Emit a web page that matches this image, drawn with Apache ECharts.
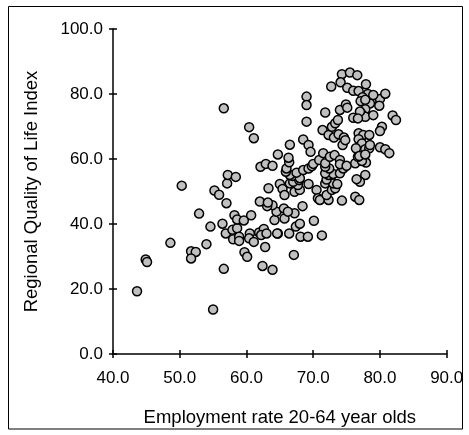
<!DOCTYPE html>
<html>
<head>
<meta charset="utf-8">
<script src="https://cdn.jsdelivr.net/npm/echarts@6/dist/echarts.min.js"></script>
<style>
  html, body { margin: 0; padding: 0; background: #fff; }
  #chart { width: 469px; height: 435px; }
</style>
</head>
<body>
<div id="chart"></div>
<script>
// Employment rate (20-64) per region, percent
const employmentRate = [
  43.6, 44.9, 45.1, 48.6, 50.3, 51.7, 52.4, 51.7, 52.9, 54.0,
  54.6, 55.0, 55.2, 55.9, 56.6, 56.6, 57.0, 57.1, 57.2, 58.4,
  56.4, 56.9, 57.9, 58.6, 58.0, 58.9, 58.9, 58.2, 58.6, 59.6,
  60.7, 60.5, 60.4, 61.1, 59.7, 60.1, 60.4, 61.1, 61.9, 62.6,
  62.2, 63.0, 62.8, 62.4, 63.9, 64.7, 64.2, 64.5, 63.9, 63.1,
  62.0, 63.2, 63.3, 64.7, 62.1, 62.9, 63.9, 65.6, 65.7, 67.2,
  68.4, 66.2, 67.4, 68.0, 70.1, 64.6, 66.4, 68.1, 69.2, 71.3,
  67.1, 65.0, 65.4, 65.7, 67.2, 68.0, 70.5, 70.7, 71.0, 72.3,
  72.0, 72.8, 73.3, 74.3, 76.3, 76.9, 66.5, 67.7, 69.3, 67.0,
  67.9, 66.9, 68.0, 66.5, 65.9, 67.5, 71.8, 73.0, 73.6, 72.0,
  72.3, 73.0, 71.8, 74.0, 72.4, 74.5, 71.8, 68.5, 69.3, 69.8,
  70.0, 66.0, 66.4, 66.3, 66.5, 70.9, 71.8, 71.5, 72.5, 73.2,
  74.0, 74.0, 75.0, 76.3, 77.9, 77.3, 76.7, 68.5, 69.3, 69.6,
  69.0, 69.0, 69.0, 71.4, 71.8, 72.3, 73.1, 73.8, 74.6, 74.4,
  72.8, 73.3, 73.7, 74.0, 74.9, 75.1, 74.3, 75.5, 76.6, 74.1,
  72.7, 77.9, 75.1, 76.0, 76.8, 78.2, 77.4, 78.9, 77.1, 78.5,
  77.8, 80.0, 80.8, 79.9, 77.3, 76.0, 77.8, 79.0, 77.0, 76.7,
  81.9, 82.4, 80.3, 80.0, 76.8, 77.5, 78.4, 76.8, 77.3, 74.8,
  76.4, 77.8, 78.4, 76.9, 77.8, 80.0, 80.8, 81.4, 78.5, 79.0,
  77.8, 77.8, 77.0, 76.5
];

// Regional Quality of Life Index, same order as above
const qualityIndex = [
  19.3, 29.1, 28.3, 34.2, 51.8, 31.6, 31.4, 29.4, 43.2, 33.8,
  39.2, 13.7, 50.3, 49.0, 26.2, 75.6, 46.4, 52.5, 55.1, 54.5,
  40.1, 37.1, 38.2, 38.7, 35.3, 36.1, 34.8, 42.7, 41.4, 41.1,
  42.7, 37.1, 35.6, 34.5, 31.3, 29.9, 69.8, 66.4, 37.4, 38.5,
  36.6, 37.1, 32.9, 27.1, 25.9, 37.1, 41.2, 43.8, 45.8, 45.5,
  46.9, 46.6, 51.0, 61.4, 57.6, 58.5, 57.9, 44.8, 41.7, 43.3,
  45.5, 43.8, 39.2, 40.1, 41.0, 37.1, 37.1, 36.1, 36.1, 36.5,
  30.5, 52.3, 50.8, 48.9, 49.9, 50.5, 50.5, 47.9, 47.4, 47.4,
  48.9, 50.5, 51.0, 47.2, 48.4, 47.4, 52.5, 52.0, 52.3, 53.0,
  53.5, 54.8, 54.1, 55.1, 56.1, 55.8, 52.5, 52.5, 52.3, 53.7,
  55.1, 55.4, 55.6, 55.6, 57.1, 57.1, 57.6, 56.6, 57.1, 57.8,
  58.5, 57.1, 59.0, 60.4, 64.4, 59.7, 58.7, 61.8, 60.7, 61.2,
  59.7, 58.4, 57.9, 58.7, 58.9, 59.4, 60.7, 66.0, 64.3, 62.2,
  71.5, 79.2, 76.6, 68.9, 74.3, 67.4, 66.6, 67.6, 66.6, 64.3,
  69.9, 71.0, 72.0, 75.1, 76.8, 75.8, 86.1, 86.6, 85.8, 83.6,
  82.3, 83.0, 81.9, 81.0, 80.9, 80.0, 79.0, 78.4, 77.8, 77.1,
  75.3, 78.5, 80.1, 76.4, 73.8, 72.7, 73.0, 73.5, 74.6, 72.5,
  73.4, 72.0, 69.9, 68.6, 67.9, 67.4, 67.4, 66.1, 64.8, 65.8,
  63.3, 63.0, 63.3, 60.9, 61.4, 63.6, 63.0, 61.8, 64.3, 79.7,
  78.2, 55.1, 53.0, 53.8
];

const xTicks = { min: 40, max: 90, step: 10 };
const yTicks = { min: 0, max: 100, step: 20 };

const points = employmentRate.map((x, i) => [x, qualityIndex[i]]);

const fontFamily = '"Liberation Sans", Arial, sans-serif';
const fmt = v => v.toFixed(1);

const chart = echarts.init(document.getElementById('chart'), null, { renderer: 'canvas' });

const baseAxis = {
  type: 'value',
  splitLine: { show: false },
  axisLine: { show: true, onZero: false, lineStyle: { color: '#000', width: 1.5 } },
  axisTick: { show: true, inside: false, length: 4, lineStyle: { color: '#000', width: 1.5 } },
  axisLabel: { color: '#000', fontFamily: fontFamily, fontSize: 17, formatter: fmt }
};

// second copy of each axis carries the inner half of the crossing tick marks
const innerTicks = {
  type: 'value',
  splitLine: { show: false },
  axisLine: { show: false },
  axisLabel: { show: false },
  axisTick: { show: true, inside: true, length: 4, lineStyle: { color: '#000', width: 1.5 } }
};

const nameStyle = { color: '#000', fontFamily: fontFamily, fontSize: 18.5 };

chart.setOption({
  animation: false,
  backgroundColor: '#fff',
  grid: { left: 113, right: 22.3, top: 29, bottom: 81 },
  xAxis: [
    Object.assign({}, baseAxis, {
      min: xTicks.min, max: xTicks.max, interval: xTicks.step,
      position: 'bottom',
      name: 'Employment rate 20-64 year olds',
      nameLocation: 'middle', nameGap: 54,
      nameTextStyle: nameStyle,
      axisLabel: Object.assign({}, baseAxis.axisLabel, { margin: 16 })
    }),
    Object.assign({}, innerTicks, {
      min: xTicks.min, max: xTicks.max, interval: xTicks.step,
      position: 'bottom', offset: 0
    })
  ],
  yAxis: [
    Object.assign({}, baseAxis, {
      min: yTicks.min, max: yTicks.max, interval: yTicks.step,
      position: 'left',
      name: 'Regional Quality of Life Index',
      nameLocation: 'middle', nameGap: 72,
      nameTextStyle: nameStyle,
      axisLabel: Object.assign({}, baseAxis.axisLabel, { margin: 10 })
    }),
    Object.assign({}, innerTicks, {
      min: yTicks.min, max: yTicks.max, interval: yTicks.step,
      position: 'left', offset: 0
    })
  ],
  series: [{
    type: 'scatter',
    xAxisIndex: 0,
    yAxisIndex: 0,
    data: points,
    symbol: 'circle',
    symbolSize: 9,
    itemStyle: { color: '#c0c0c0', borderColor: '#000', borderWidth: 1.5, opacity: 1 }
  }],
  graphic: [{
    type: 'rect',
    silent: true,
    shape: { x: 8.5, y: 6.5, width: 454, height: 422.5 },
    style: { fill: null, stroke: '#000', lineWidth: 1 }
  }]
});
</script>
</body>
</html>
